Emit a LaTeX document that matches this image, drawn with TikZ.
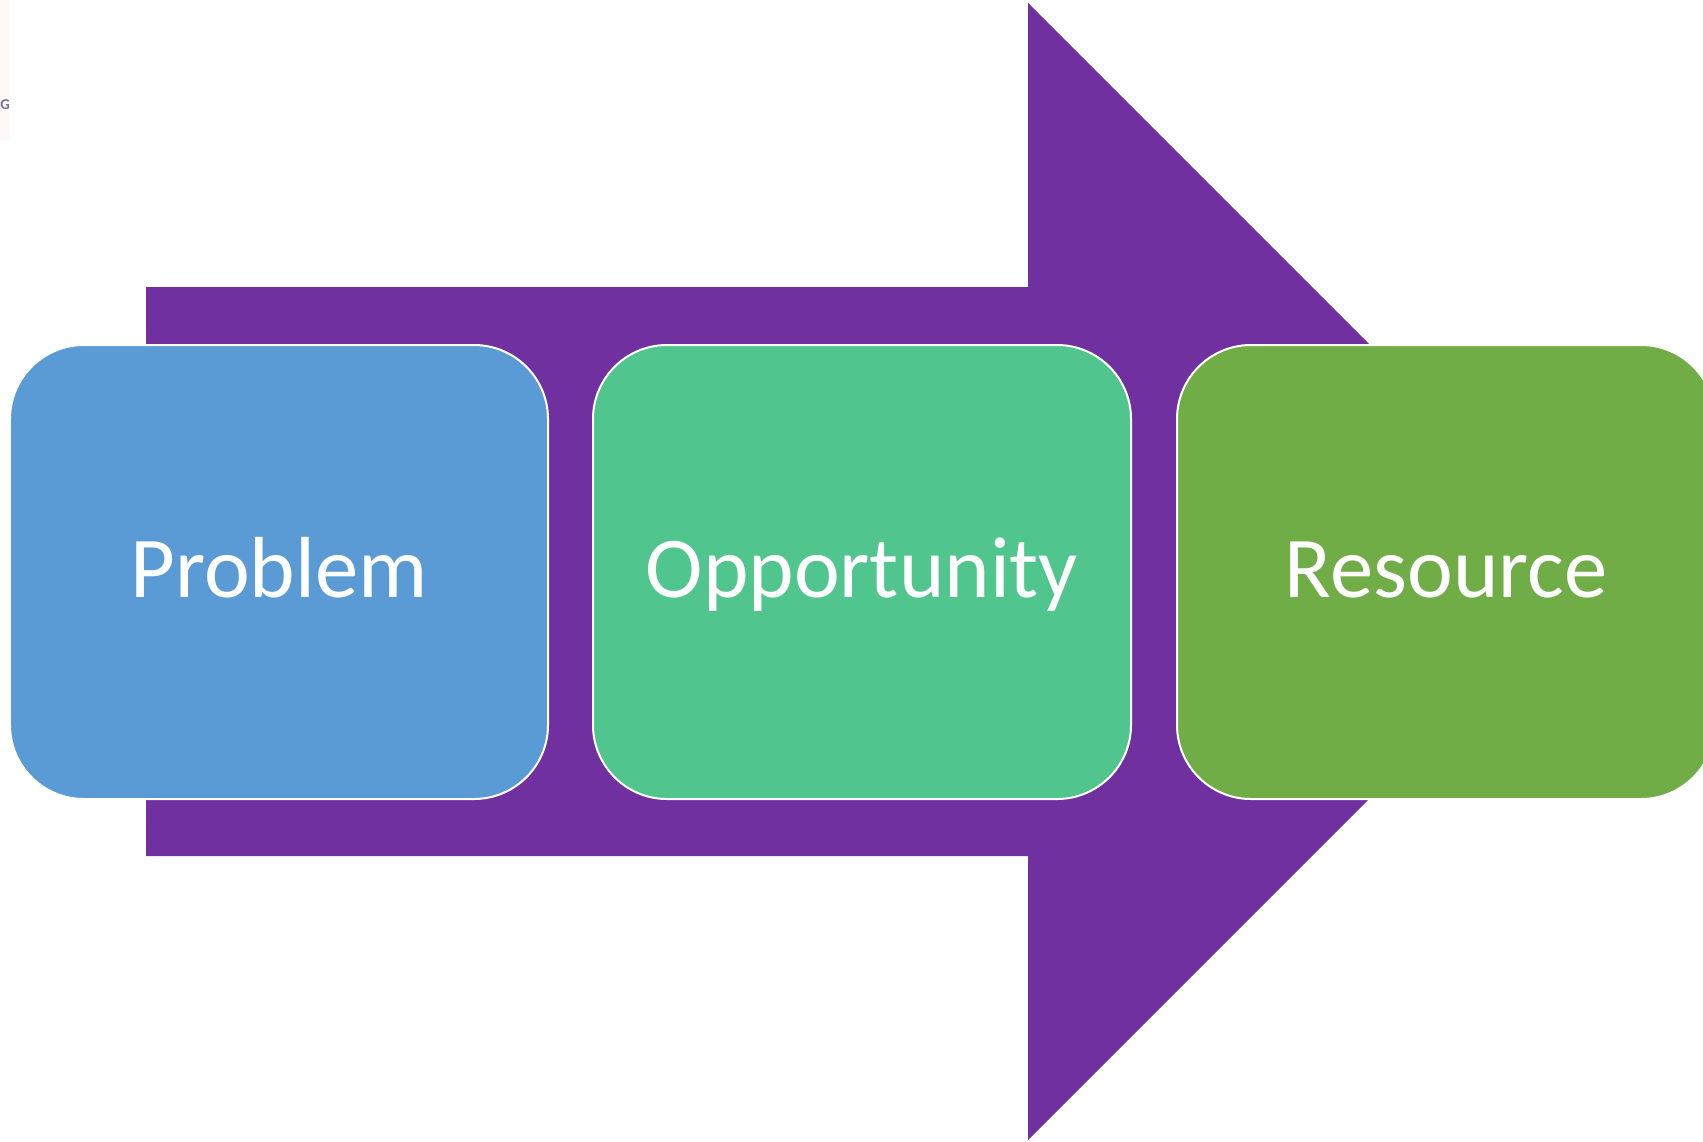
\documentclass[tikz,border=0pt]{standalone}
\usepackage{fontspec}
\setmainfont{Carlito}
\definecolor{arrowpurple}{HTML}{7030A0}
\definecolor{probblue}{HTML}{5B9BD5}
\definecolor{oppgreen}{HTML}{50C58E}
\definecolor{resgreen}{HTML}{70AD47}
\definecolor{ghostgray}{HTML}{7E6C9E}
\definecolor{ghoststrip}{HTML}{FDF9F8}
\begin{document}
\begin{tikzpicture}[x=1bp,y=-1bp,
  stagebox/.style={rounded corners=74bp, minimum width=538bp, minimum height=454bp,
    draw=white, line width=2bp, text=white, inner sep=0pt,
    font=\fontsize{87}{100}\selectfont, text height=60bp, text depth=10bp}]
\useasboundingbox (0,0) rectangle (1703,1141);
\clip (0,0) rectangle (1703,1141);
\fill[white] (0,0) rectangle (1703,1141);
\fill[ghoststrip] (0,0) rectangle (9,140);
\node[anchor=base east, inner sep=0pt, text=ghostgray, font=\fontsize{15}{16}\selectfont\bfseries] (ghost) at (10,109) {G};
\fill[arrowpurple] (146,287) -- (1028,287) -- (1028,3) -- (1596.5,571.5) -- (1028,1140) -- (1028,856) -- (146,856) -- cycle;
\node[stagebox, fill=probblue] (problem) at (279,572) {Problem};
\node[stagebox, fill=oppgreen] (opportunity) at (862,572) {Opportunity};
\node[stagebox, fill=resgreen] (resource) at (1446,572) {Resource};
\end{tikzpicture}
\end{document}
